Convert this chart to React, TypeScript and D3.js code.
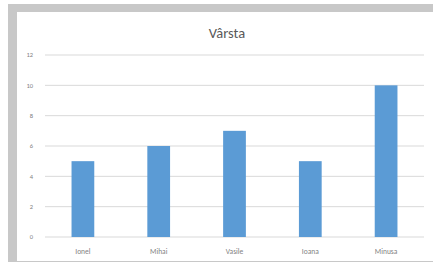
import React, { useEffect, useRef } from 'react';
import * as d3 from 'd3';

const names = ['Ionel', 'Mihai', 'Vasile', 'Ioana', 'Minusa'];
const ages = [5, 6, 7, 5, 10];
const yTicks = [0, 2, 4, 6, 8, 10, 12];
const title = 'Vârsta';

const W = 433;
const H = 267;

export default function App() {
  const svgRef = useRef<SVGSVGElement | null>(null);

  useEffect(() => {
    if (!svgRef.current) return;
    const svg = d3.select(svgRef.current);
    svg.selectAll('*').remove();

    const font = 'Calibri, Carlito, "Liberation Sans", Arial, sans-serif';
    const plot = { left: 45, right: 424, top: 55, bottom: 237 };

    // grey frame of the chart object
    svg.append('rect').attr('width', W).attr('height', H).attr('fill', '#ffffff');
    svg.append('rect').attr('x', 8).attr('y', 4).attr('width', W - 8).attr('height', 258).attr('fill', '#c8c8c8');
    svg.append('rect').attr('x', 17).attr('y', 12).attr('width', W - 17).attr('height', 249).attr('fill', '#ffffff');

    const x = d3.scaleBand<string>()
      .domain(names)
      .range([plot.left, plot.right])
      .paddingInner(0.7)
      .paddingOuter(0.35);
    const y = d3.scaleLinear().domain([0, 12]).range([plot.bottom, plot.top]);

    // gridlines
    svg.append('g')
      .selectAll('line')
      .data(yTicks)
      .join('line')
      .attr('x1', plot.left)
      .attr('x2', plot.right)
      .attr('y1', (d) => y(d))
      .attr('y2', (d) => y(d))
      .attr('stroke', '#d9d9d9')
      .attr('stroke-width', 1);

    // y tick labels
    svg.append('g')
      .selectAll('text')
      .data(yTicks)
      .join('text')
      .attr('x', 33)
      .attr('y', (d) => y(d))
      .attr('dy', '0.35em')
      .attr('text-anchor', 'end')
      .attr('font-family', font)
      .attr('font-size', 6.5)
      .attr('fill', '#7f7f7f')
      .text((d) => String(d));

    // bars
    svg.append('g')
      .selectAll('rect')
      .data(ages)
      .join('rect')
      .attr('x', (_, i) => x(names[i]) as number)
      .attr('y', (d) => y(d))
      .attr('width', x.bandwidth())
      .attr('height', (d) => y(0) - y(d))
      .attr('fill', '#5b9bd5');

    // category labels
    svg.append('g')
      .selectAll('text')
      .data(names)
      .join('text')
      .attr('x', (d) => (x(d) as number) + x.bandwidth() / 2)
      .attr('y', 251)
      .attr('dy', '0.35em')
      .attr('text-anchor', 'middle')
      .attr('font-family', font)
      .attr('font-size', 7.5)
      .attr('fill', '#7f7f7f')
      .text((d) => d);

    svg.append('text')
      .attr('x', 227)
      .attr('y', 33)
      .attr('dy', '0.35em')
      .attr('text-anchor', 'middle')
      .attr('font-family', font)
      .attr('font-size', 14.5)
      .attr('fill', '#595959')
      .text(title);
  }, []);

  return (
    <div style={{ position: 'fixed', top: 0, left: 0 }}>
      <svg ref={svgRef} width={W} height={H} style={{ display: 'block' }} />
    </div>
  );
}
